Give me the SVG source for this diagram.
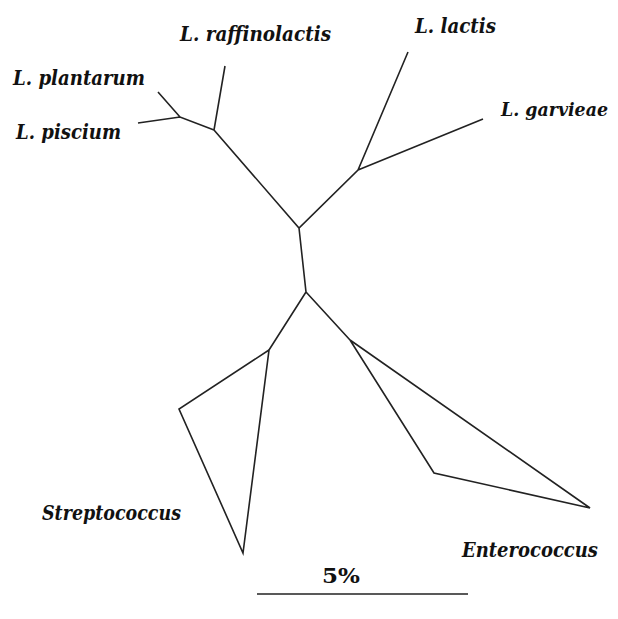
<svg xmlns="http://www.w3.org/2000/svg" width="618" height="619" viewBox="0 0 618 619">
<style>
.e{stroke:#222;stroke-width:1.6;fill:none;stroke-linejoin:miter;stroke-linecap:butt}
.t{font-family:"DejaVu Serif",serif;font-style:italic;font-weight:bold;font-size:20px;fill:#111}
.s{font-family:"DejaVu Serif",serif;font-weight:bold;font-size:21px;fill:#111}
</style>
<rect width="618" height="619" fill="#fff"/>
<g id="connectors">
<path class="e" d="M158,92 L180,117 M138,123 L180,117 L214,130 M225,66 L214,130 L299,228 L358,170 L408,52 M358,170 L483,119 M299,228 L306,292 L269,350 M306,292 L350,340"/>
<path class="e" d="M269,350 L179,409 L243,553 Z"/>
<path class="e" d="M350,340 L434,473 L590,508 Z"/>
<path class="e" d="M257,594 L468,594"/>
</g>
<g id="plantarum"><text class="t" x="13" y="85" textLength="132" lengthAdjust="spacingAndGlyphs">L. plantarum</text></g>
<g id="piscium"><text class="t" x="16" y="139" textLength="105" lengthAdjust="spacingAndGlyphs">L. piscium</text></g>
<g id="raffinolactis"><text class="t" x="180" y="41" textLength="151" lengthAdjust="spacingAndGlyphs">L. raffinolactis</text></g>
<g id="lactis"><text class="t" x="415" y="33" textLength="81" lengthAdjust="spacingAndGlyphs">L. lactis</text></g>
<g id="garvieae"><text class="t" x="501" y="116" style="font-size:18.5px" textLength="107" lengthAdjust="spacingAndGlyphs">L. garvieae</text></g>
<g id="streptococcus"><text class="t" x="42" y="520" textLength="139" lengthAdjust="spacingAndGlyphs">Streptococcus</text></g>
<g id="enterococcus"><text class="t" x="462" y="557" textLength="136" lengthAdjust="spacingAndGlyphs">Enterococcus</text></g>
<g id="scale"><text class="s" x="322" y="583" textLength="38" lengthAdjust="spacingAndGlyphs">5%</text></g>
</svg>
